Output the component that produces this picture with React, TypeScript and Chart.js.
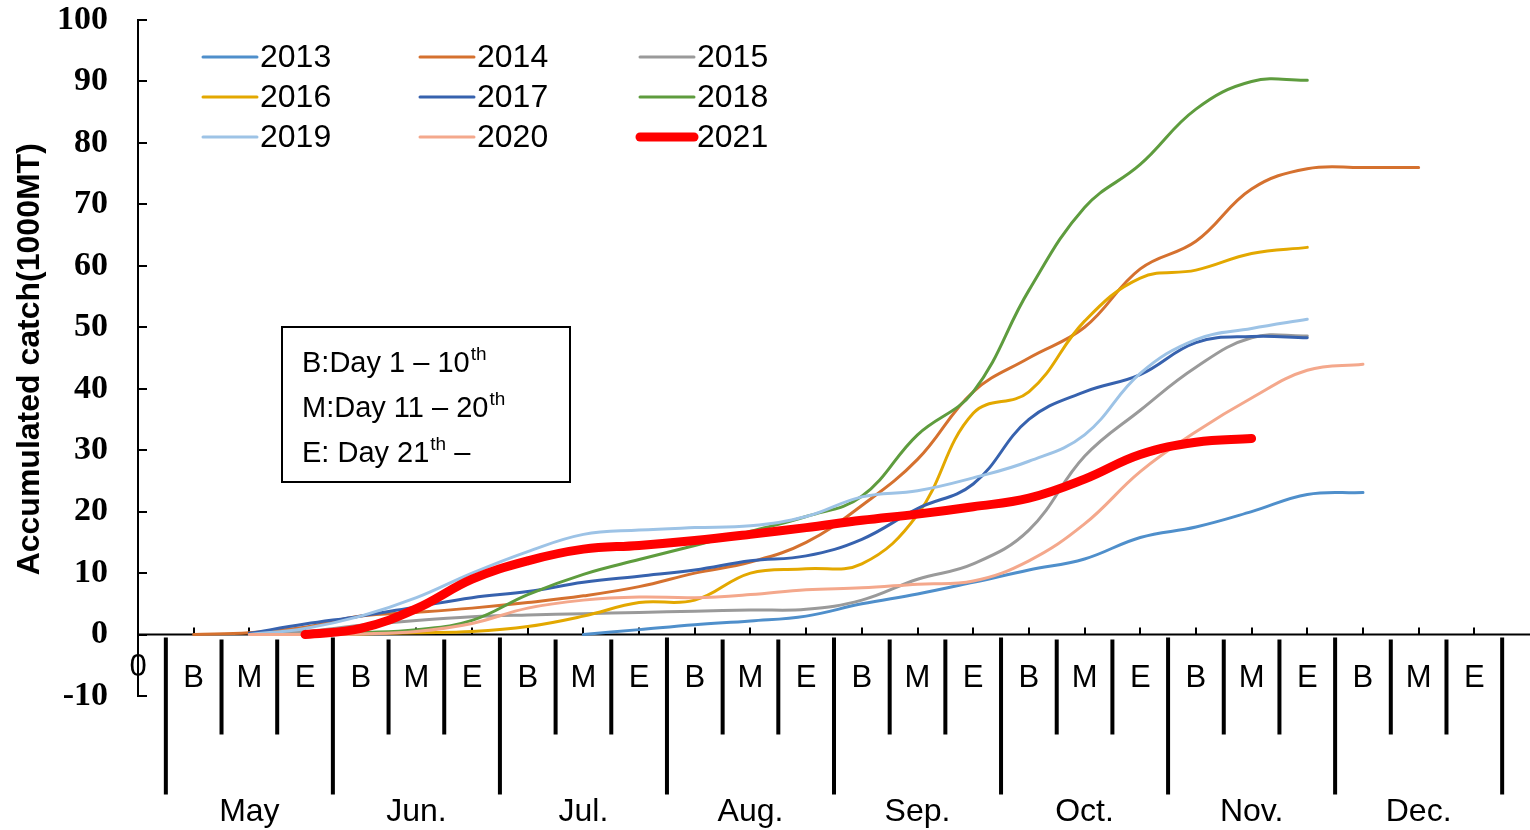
import { useEffect, useRef } from 'react';
import { Chart, registerables } from 'chart.js';

Chart.register(...registerables);

const MONTHS = ['May', 'Jun.', 'Jul.', 'Aug.', 'Sep.', 'Oct.', 'Nov.', 'Dec.'];
const DEKADS = ['B', 'M', 'E'];
const CATEGORIES = ['0', ...MONTHS.flatMap(() => DEKADS), ''];
const Y_MIN = -10;
const Y_MAX = 100;
const Y_STEP = 10;

const YEARS = ['2013', '2014', '2015', '2016', '2017', '2018', '2019', '2020', '2021'];
const COLORS = ['#4F8FCB', '#D5712F', '#9A9A9A', '#E3A800', '#3762AE', '#5E9C3E', '#9DC3E6', '#F4A88C', '#FF0000'];
const WIDTHS = [3, 3, 3, 3, 3, 3, 3, 3, 9];

const N = null;
// one value per dekad: May B, M, E, Jun B, M, E, ... Dec B, M, E
const S2013 = [N, N, N, N, N, N, N, 0, 0.8, 1.6, 2.2, 3.0, 5.0, 6.6, 8.5, 10.5, 12.3, 15.8, 17.5, 20.0, 22.8, 23.1, N, N];
const S2014 = [0, 0.3, 1.2, 3.0, 3.6, 4.3, 5.2, 6.3, 7.8, 10.0, 11.8, 15.0, 21.0, 28.5, 39.5, 45.0, 50.0, 59.5, 64.0, 72.5, 75.8, 76.0, 76.0, N];
const S2015 = [N, 0, 0.5, 1.5, 2.3, 2.9, 3.2, 3.4, 3.6, 3.8, 4.0, 4.1, 5.6, 9.0, 11.5, 17.0, 29.0, 36.5, 43.5, 48.3, 48.6, N, N, N];
const S2016 = [N, N, 0, 0.1, 0.3, 0.5, 1.3, 3.0, 5.2, 5.6, 10.0, 10.7, 11.5, 19.5, 36.0, 39.5, 51.0, 58.0, 59.3, 62.0, 63.0, N, N, N];
const S2017 = [N, 0.2, 1.7, 3.0, 4.5, 6.0, 7.0, 8.5, 9.5, 10.5, 12.0, 12.8, 15.5, 20.5, 24.5, 35.0, 39.5, 42.3, 47.5, 48.5, 48.3, N, N, N];
const S2018 = [N, N, 0, 0.3, 0.8, 2.3, 6.5, 9.8, 12.2, 14.5, 16.8, 19.2, 22.5, 32.5, 39.5, 56.0, 69.5, 76.5, 85.5, 90.0, 90.2, N, N, N];
const S2019 = [N, 0, 1.0, 3.0, 6.0, 10.0, 13.5, 16.3, 17.0, 17.4, 17.7, 19.2, 22.4, 23.4, 25.5, 28.2, 32.5, 42.5, 48.0, 49.8, 51.3, N, N, N];
const S2020 = [N, 0, 0, 0.1, 0.5, 1.8, 4.3, 5.6, 6.1, 6.0, 6.5, 7.3, 7.6, 8.2, 8.7, 12.0, 18.0, 26.5, 33.0, 38.5, 43.0, 44.0, N, N];
const S2021 = [N, N, 0, 1.0, 4.2, 9.0, 12.0, 13.9, 14.5, 15.3, 16.3, 17.4, 18.6, 19.6, 20.8, 22.2, 25.3, 29.3, 31.3, 31.9, N, N, N, N];
const SERIES = [S2013, S2014, S2015, S2016, S2017, S2018, S2019, S2020, S2021];

const NOTE_LINES = [
  { main: 'B:Day 1 \u2013 10', sup: 'th', tail: '' },
  { main: 'M:Day 11 \u2013 20', sup: 'th', tail: '' },
  { main: 'E: Day 21', sup: 'th', tail: ' \u2013' },
];

const Y_TITLE = 'Accumulated catch(1000MT)';

const SANS = '"Liberation Sans", Arial, sans-serif';
const SERIF = '"Liberation Serif", "Times New Roman", serif';

const decorPlugin = {
  id: 'decor',
  beforeDatasetsDraw(chart: any) {
    const { ctx, chartArea, scales } = chart;
    const x = scales.x;
    const y = scales.y;
    const y0 = y.getPixelForValue(0);
    ctx.save();
    ctx.strokeStyle = '#000';
    ctx.lineWidth = 2;
    ctx.beginPath();
    ctx.moveTo(chartArea.left, y0);
    ctx.lineTo(chartArea.right, y0);
    for (let i = 1; i < CATEGORIES.length - 1; i++) {
      const px = Math.round(x.getPixelForValue(i));
      ctx.moveTo(px, y0);
      ctx.lineTo(px, y0 - 7);
    }
    y.ticks.forEach((t: any) => {
      const py = Math.round(y.getPixelForValue(t.value));
      ctx.moveTo(chartArea.left, py);
      ctx.lineTo(chartArea.left + 9, py);
    });
    ctx.stroke();
    ctx.restore();
  },
  afterDraw(chart: any) {
    const { ctx, chartArea, scales } = chart;
    const x = scales.x;
    const y = scales.y;
    const y0 = y.getPixelForValue(0);
    ctx.save();

    // separators below axis
    ctx.strokeStyle = '#000';
    ctx.lineWidth = 4;
    ctx.beginPath();
    for (let m = 0; m <= MONTHS.length; m++) {
      const px = x.getPixelForValue(0.5 + m * 3);
      ctx.moveTo(px, y0 + 3);
      ctx.lineTo(px, y0 + 160);
      if (m < MONTHS.length) {
        for (let k = 1; k < 3; k++) {
          const qx = x.getPixelForValue(0.5 + m * 3 + k);
          ctx.moveTo(qx, y0 + 5);
          ctx.lineTo(qx, y0 + 100);
        }
      }
    }
    ctx.stroke();

    // category labels
    ctx.fillStyle = '#000';
    ctx.textAlign = 'center';
    ctx.textBaseline = 'middle';
    ctx.font = `31px ${SANS}`;
    CATEGORIES.forEach((c, i) => {
      if (!c) return;
      const px = x.getPixelForValue(i);
      ctx.fillText(c, px, i === 0 ? y0 + 33 : y0 + 44);
    });
    ctx.font = `32px ${SANS}`;
    MONTHS.forEach((m, i) => {
      const px = x.getPixelForValue(2 + i * 3);
      ctx.fillText(m, px, y0 + 178);
    });

    // y title
    ctx.save();
    ctx.translate(30, (chartArea.top + y0) / 2 + 32);
    ctx.rotate(-Math.PI / 2);
    ctx.font = `bold 32px ${SANS}`;
    ctx.fillText(Y_TITLE, 0, 0);
    ctx.restore();

    // legend
    const colX = [65, 282, 502];
    const rowY = [37, 77, 117];
    ctx.textAlign = 'left';
    ctx.font = `32px ${SANS}`;
    chart.data.datasets.forEach((ds: any, i: number) => {
      const cx = chartArea.left + colX[i % 3];
      const cy = chartArea.top + rowY[Math.floor(i / 3)];
      ctx.strokeStyle = ds.borderColor;
      ctx.lineWidth = ds.borderWidth;
      ctx.lineCap = 'round';
      ctx.beginPath();
      ctx.moveTo(cx, cy);
      ctx.lineTo(cx + 54, cy);
      ctx.stroke();
      ctx.fillStyle = '#000';
      ctx.fillText(ds.label, cx + 57, cy + 1);
    });

    // note box
    const bx = chartArea.left + 144;
    const by = chartArea.top + 307;
    const bw = 288;
    const bh = 155;
    ctx.fillStyle = '#fff';
    ctx.fillRect(bx, by, bw, bh);
    ctx.strokeStyle = '#000';
    ctx.lineWidth = 2;
    ctx.lineCap = 'butt';
    ctx.strokeRect(bx, by, bw, bh);
    ctx.fillStyle = '#000';
    ctx.textBaseline = 'alphabetic';
    NOTE_LINES.forEach((ln, i) => {
      const tx = bx + 20;
      const ty = by + 45 + i * 45;
      ctx.font = `29px ${SANS}`;
      ctx.fillText(ln.main, tx, ty);
      const w1 = ctx.measureText(ln.main).width;
      ctx.font = `19px ${SANS}`;
      ctx.fillText(ln.sup, tx + w1 + 1, ty - 12);
      const w2 = ctx.measureText(ln.sup).width;
      if (ln.tail) {
        ctx.font = `29px ${SANS}`;
        ctx.fillText(ln.tail, tx + w1 + w2 + 1, ty);
      }
    });
    ctx.restore();
  },
};

export default function App() {
  const canvasRef = useRef<HTMLCanvasElement | null>(null);

  useEffect(() => {
    if (!canvasRef.current) return;
    const datasets = YEARS.map((yr, i) => ({
      label: yr,
      data: [null, ...SERIES[i], null],
      borderColor: COLORS[i],
      backgroundColor: COLORS[i],
      borderWidth: WIDTHS[i],
      pointRadius: 0,
      tension: 0.4,
      fill: false,
      order: YEARS.length - i,
      borderCapStyle: 'round',
      borderJoinStyle: 'round',
    }));
    const chart = new Chart(canvasRef.current, {
      type: 'line',
      data: { labels: CATEGORIES, datasets: datasets as any },
      options: {
        responsive: false,
        animation: false,
        layout: { padding: { top: 20, left: 0, right: 0, bottom: 0 } },
        plugins: { legend: { display: false }, tooltip: { enabled: false } },
        scales: {
          x: {
            type: 'category',
            offset: false,
            grid: { display: false },
            border: { display: false },
            ticks: { display: false },
            afterFit: (s: any) => {
              s.height = 134;
              s.paddingLeft = 0;
              s.paddingRight = 0;
            },
          },
          y: {
            min: Y_MIN,
            max: Y_MAX,
            ticks: {
              stepSize: Y_STEP,
              color: '#000',
              padding: 30,
              font: { family: SERIF, size: 34, weight: 'bold' },
            },
            grid: { display: false, drawTicks: false },
            border: { display: true, color: '#000', width: 2 },
            afterFit: (s: any) => {
              s.width = 138;
              s.paddingTop = 0;
              s.paddingBottom = 0;
            },
          },
        },
      } as any,
      plugins: [decorPlugin],
    });
    return () => chart.destroy();
  }, []);

  return (
    <div style={{ position: 'fixed', left: 0, top: 0, width: 1530, height: 830, background: '#fff' }}>
      <canvas ref={canvasRef} width={1530} height={830} style={{ display: 'block' }} />
    </div>
  );
}
